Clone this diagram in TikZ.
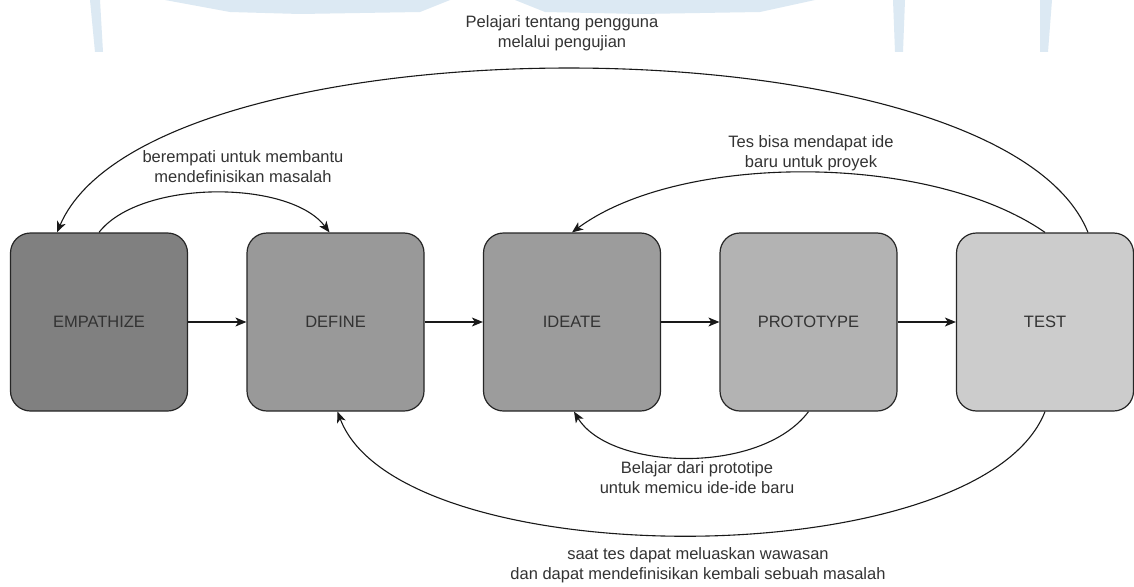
\documentclass[tikz,border=0pt]{standalone}
\usepackage{fontspec}
\setmainfont{Liberation Sans}
\usetikzlibrary{arrows.meta}
\definecolor{boxA}{HTML}{808080}
\definecolor{boxB}{HTML}{999999}
\definecolor{boxC}{HTML}{9C9C9C}
\definecolor{boxD}{HTML}{B3B3B3}
\definecolor{boxE}{HTML}{CCCCCC}
\definecolor{txt}{HTML}{333333}
\definecolor{wm}{HTML}{DCE9F3}
\tikzset{
  stagebox/.style={draw=black!85, line width=1.2pt, rounded corners=20pt,
    minimum width=177pt, minimum height=178pt, inner sep=0pt,
    font=\fontsize{16.5}{20}\selectfont, text=txt},
  flow/.style={line width=1.1pt, draw=black!90, -{Stealth[length=11pt,width=9pt,inset=3pt]}},
  lbl/.style={align=center, font=\fontsize{16.5}{20}\selectfont, text=txt, inner sep=0pt}
}
\begin{document}
\begin{tikzpicture}[x=1pt,y=-1pt]
\useasboundingbox[fill=white] (0,0) rectangle (1134,586);
% faint watermark at the top
\fill[wm] (90,0) -- (100,0) -- (103,52) -- (95,52) -- cycle;
\fill[wm] (165,0) -- (450,0) -- (420,12) -- (300,14) -- (230,12) -- cycle;
\fill[wm] (515,0) -- (815,0) -- (760,12) -- (640,14) -- (545,12) -- cycle;
\fill[wm] (893,0) -- (905,0) -- (903,52) -- (895,52) -- cycle;
\fill[wm] (1040,0) -- (1052,0) -- (1048,52) -- (1040,52) -- cycle;

\node[stagebox, fill=boxA] (e) at (99,322) {EMPATHIZE};
\node[stagebox, fill=boxB] (d) at (335.5,322) {DEFINE};
\node[stagebox, fill=boxC] (i) at (572,322) {IDEATE};
\node[stagebox, fill=boxD] (p) at (808.5,322) {PROTOTYPE};
\node[stagebox, fill=boxE] (t) at (1045,322) {TEST};

\draw[flow] (e) -- (d);
\draw[flow] (d) -- (i);
\draw[flow] (i) -- (p);
\draw[flow] (p) -- (t);

\draw[flow] (e.north) .. controls +(41,-53) and +(-40,-53) .. ([xshift=-6pt]d.north);
\draw[flow] ([xshift=43pt]t.north) .. controls +(-88,-218) and +(93,-218) .. ([xshift=-42pt]e.north);
\draw[flow] (t.north) .. controls +(-115,-80) and +(108,-80) .. (i.north);
\draw[flow] (p.south) .. controls +(-48,64) and +(36,59) .. ([xshift=2pt]i.south);
\draw[flow] (t.south) .. controls +(-65,165) and +(62,165) .. ([xshift=2pt]d.south);

\node[lbl] (l1) at (562,33) {Pelajari tentang pengguna\\melalui pengujian};
\node[lbl] (l2) at (243,167) {berempati untuk membantu\\mendefinisikan masalah};
\node[lbl] (l3) at (811,153) {Tes bisa mendapat ide\\baru untuk proyek};
\node[lbl] (l4) at (697,478) {Belajar dari prototipe\\untuk memicu ide-ide baru};
\node[lbl] (l5) at (698,565) {saat tes dapat meluaskan wawasan\\dan dapat mendefinisikan kembali sebuah masalah};
\end{tikzpicture}
\end{document}
